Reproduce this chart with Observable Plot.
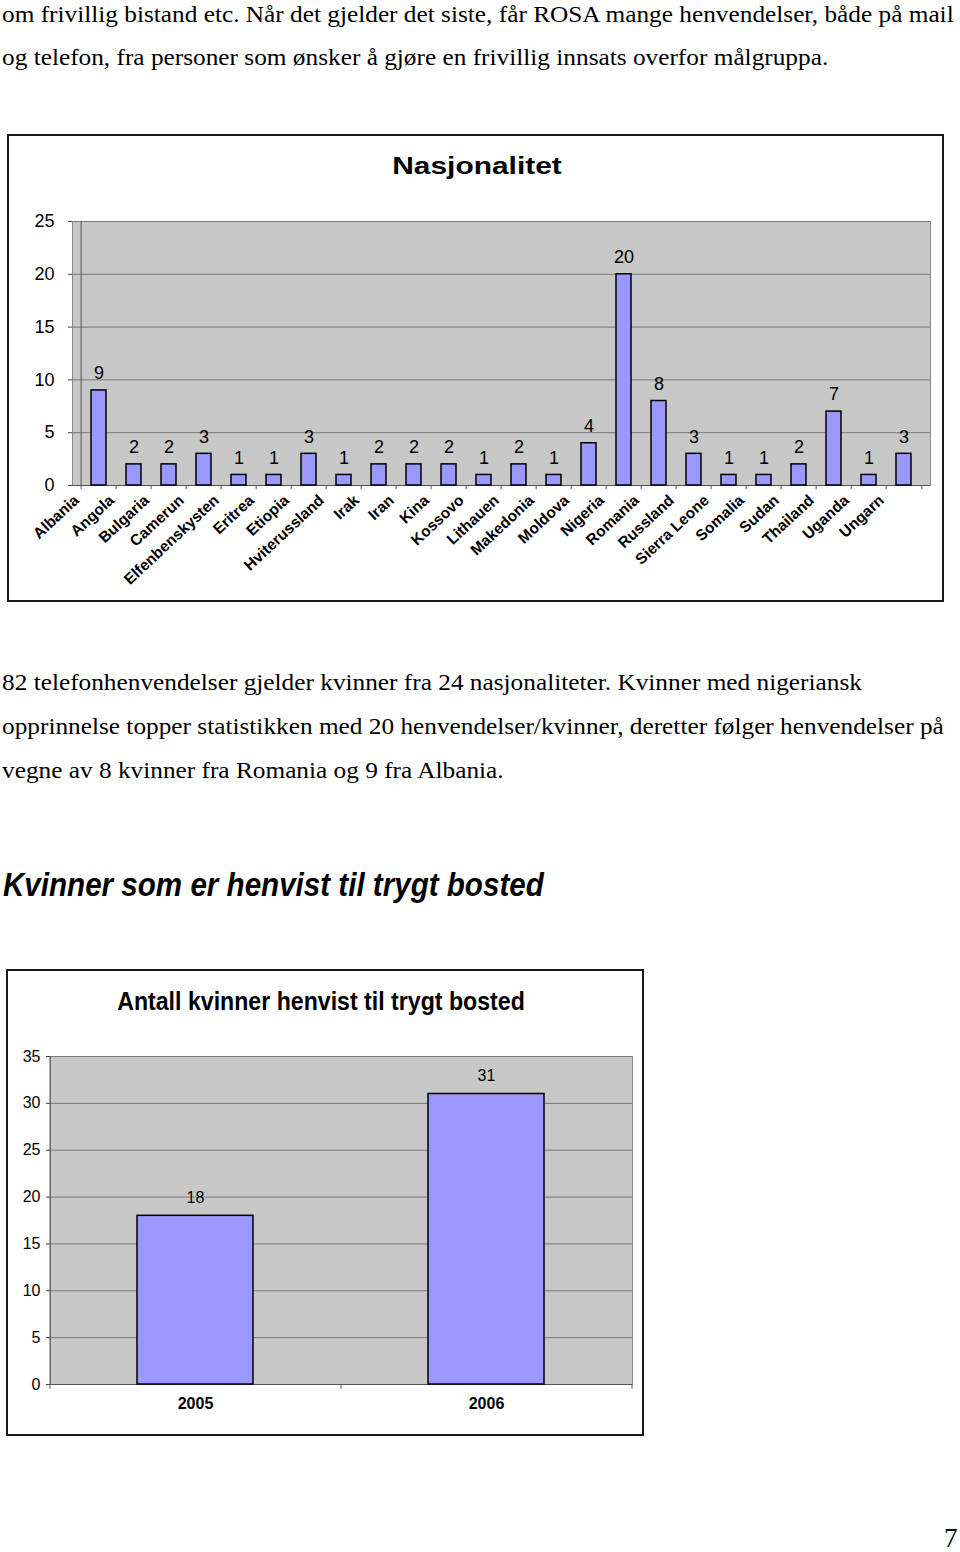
<!DOCTYPE html>
<html><head><meta charset="utf-8">
<script src="https://cdn.jsdelivr.net/npm/d3@7"></script>
<script src="https://cdn.jsdelivr.net/npm/@observablehq/plot@0.6"></script>
<style>
body{margin:0;background:#fff;}
#page{position:relative;width:960px;height:1552px;overflow:hidden;background:#fff;}
.t{position:absolute;white-space:nowrap;font-family:"Liberation Serif","Times New Roman",serif;font-size:23px;line-height:23px;color:#000;transform:scaleX(1.1);transform-origin:left center;}
.box{position:absolute;border:2px solid #1a1a1a;box-sizing:border-box;}
.ct{position:absolute;white-space:nowrap;font-family:"Liberation Sans",Arial,sans-serif;font-weight:bold;color:#000;transform-origin:center center;}
.svgwrap{position:absolute;left:0;}
</style></head>
<body><div id="page">
<div class="t" style="left:2px;top:3px;">om frivillig bistand etc. Når det gjelder det siste, får ROSA mange henvendelser, både på mail</div>
<div class="t" style="left:2px;top:46px;">og telefon, fra personer som ønsker å gjøre en frivillig innsats overfor målgruppa.</div>

<div class="box" style="left:7px;top:134px;width:937px;height:468px;"></div>
<div class="ct" id="title1" style="left:477px;top:166px;font-size:23px;transform:translate(-50%,-50%) scaleX(1.3);">Nasjonalitet</div>
<div class="svgwrap" id="chart1" style="top:135px;"></div>

<div class="t" style="left:2px;top:671px;">82 telefonhenvendelser gjelder kvinner fra 24 nasjonaliteter. Kvinner med nigeriansk</div>
<div class="t" style="left:2px;top:715px;">opprinnelse topper statistikken med 20 henvendelser/kvinner, deretter følger henvendelser på</div>
<div class="t" style="left:2px;top:759px;">vegne av 8 kvinner fra Romania og 9 fra Albania.</div>

<div class="ct" style="left:3px;top:884px;font-size:34px;font-style:italic;transform:translate(0,-50%) scaleX(0.87);transform-origin:left center;">Kvinner som er henvist til trygt bosted</div>

<div class="box" style="left:6px;top:969px;width:638px;height:467px;"></div>
<div class="ct" style="left:321px;top:1001px;font-size:26px;transform:translate(-50%,-50%) scaleX(0.89);">Antall kvinner henvist til trygt bosted</div>
<div class="svgwrap" id="chart2" style="top:970px;"></div>

<div class="t" style="left:944px;top:1525px;font-size:27px;line-height:27px;transform:none;">7</div>
</div>
<script>
// Chart 1: Nasjonalitet
const countries = ["Albania","Angola","Bulgaria","Camerun","Elfenbenskysten","Eritrea","Etiopia","Hviterussland","Irak","Iran","Kina","Kossovo","Lithauen","Makedonia","Moldova","Nigeria","Romania","Russland","Sierra Leone","Somalia","Sudan","Thailand","Uganda","Ungarn"];
const counts = [9,2,2,3,1,1,3,1,2,2,2,1,2,1,4,20,8,3,1,1,2,7,1,3];
const yTicks1 = [0,5,10,15,20,25];

// Chart 2: Antall kvinner henvist til trygt bosted
const years = ["2005","2006"];
const totals = [18,31];
const yTicks2 = [0,5,10,15,20,25,30,35];

const font = "'Liberation Sans', Arial, sans-serif";
const data1 = countries.map((c,i)=>({country:c, count:counts[i]}));
const data2 = years.map((y,i)=>({year:y, total:totals[i]}));

const w1 = 960, ml1 = 72, mr1 = 30;
const step1 = (w1 - ml1 - mr1) / countries.length;

const chart1 = Plot.plot({
  width: w1, height: 466,
  marginLeft: ml1, marginRight: mr1, marginTop: 86, marginBottom: 116,
  style: {fontFamily: font, background: "transparent", overflow: "visible", color: "#000"},
  x: {domain: countries, paddingInner: 0.58, paddingOuter: 0.29, axis: null},
  y: {domain: [0,25], axis: null},
  marks: [
    Plot.frame({fill: "#c8c8c8", stroke: "#8a8a8a"}),
    Plot.gridY(yTicks1.slice(1), {stroke: "#7a7a7a", strokeOpacity: 1}),
    Plot.axisY({ticks: yTicks1, label: null, tickSize: 4, tickPadding: 14, fontSize: 18, stroke: "#444"}),
    Plot.ruleY([0], {stroke: "#555"}),
    Plot.ruleX([countries[0]], {y1: 0, y2: 25, dx: -step1/2, stroke: "#555"}),
    Plot.ruleX(countries, {y1: 0, y2: -0.4, dx: -step1/2, stroke: "#555"}),
    Plot.ruleX([countries[countries.length-1]], {y1: 0, y2: -0.4, dx: step1/2, stroke: "#555"}),
    Plot.barY(data1, {x: "country", y: "count", fill: "#9999ff", stroke: "#000", strokeWidth: 1.5}),
    Plot.text(data1, {x: "country", y: "count", text: d => String(d.count), dy: -17, fontSize: 18, fill: "#000"}),
    Plot.text(countries, {x: d => d, text: d => d, frameAnchor: "bottom", rotate: -43, textAnchor: "end", dx: -19, dy: 16, fontSize: 15.5, fontWeight: "bold", fill: "#000"})
  ]
});
document.getElementById("chart1").appendChild(chart1);

const w2 = 645, ml2 = 50, mr2 = 13;
const step2 = (w2 - ml2 - mr2) / years.length;
const chart2 = Plot.plot({
  width: w2, height: 465,
  marginLeft: ml2, marginRight: mr2, marginTop: 86, marginBottom: 51,
  style: {fontFamily: font, background: "transparent", overflow: "visible", color: "#000"},
  x: {domain: years, paddingInner: 0.6, paddingOuter: 0.3, axis: null},
  y: {domain: [0,35], axis: null},
  marks: [
    Plot.frame({fill: "#c8c8c8", stroke: "#8a8a8a"}),
    Plot.gridY(yTicks2.slice(1), {stroke: "#7a7a7a", strokeOpacity: 1}),
    Plot.axisY({ticks: yTicks2, label: null, tickSize: 4, tickPadding: 6, fontSize: 16, stroke: "#444"}),
    Plot.ruleY([0], {stroke: "#555"}),
    Plot.ruleX([years[0]], {y1: 0, y2: 35, dx: -step2/2, stroke: "#555"}),
    Plot.ruleX(years, {y1: 0, y2: -0.5, dx: -step2/2, stroke: "#555"}),
    Plot.ruleX([years[years.length-1]], {y1: 0, y2: -0.5, dx: step2/2, stroke: "#555"}),
    Plot.barY(data2, {x: "year", y: "total", fill: "#9999ff", stroke: "#000", strokeWidth: 1.5}),
    Plot.text(data2, {x: "year", y: "total", text: d => String(d.total), dy: -18, fontSize: 16, fill: "#000"}),
    Plot.text(years, {x: d => d, text: d => d, frameAnchor: "bottom", dy: 24, fontSize: 16, fontWeight: "bold", fill: "#000"})
  ]
});
document.getElementById("chart2").appendChild(chart2);
</script>
</body></html>
